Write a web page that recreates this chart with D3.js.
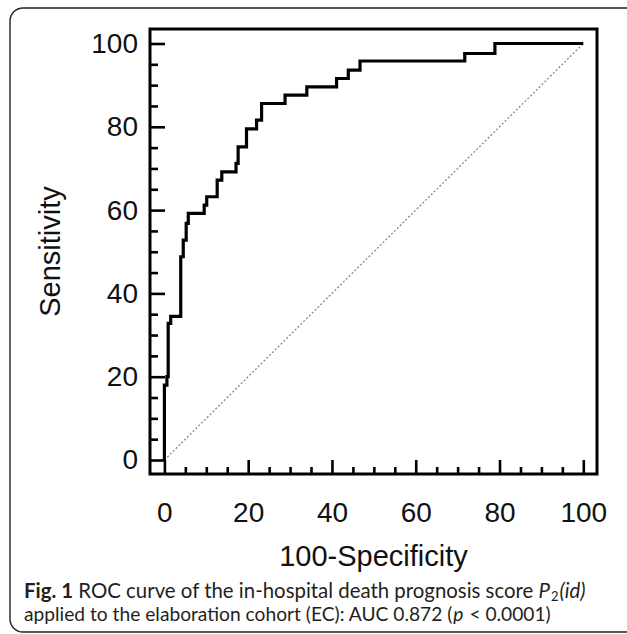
<!DOCTYPE html>
<html>
<head>
<meta charset="utf-8">
<script src="https://cdn.jsdelivr.net/npm/d3@7"></script>
<style>
  body { margin: 0; background: #fff; }
  svg { display: block; }
</style>
</head>
<body>
<svg class="roc"></svg>
<script>
// ROC curve corners, step after each point
var fpr  = [0, 0, 0.6, 0.9, 1.5, 3.9, 4.5, 5.2, 5.7, 9.5, 10.1, 12.6, 13.7, 17.1, 17.6, 19.6, 22.0, 23.2, 28.8, 34.0, 41.1, 43.9, 46.7, 71.7, 78.9, 100];
var sens = [0, 18, 20, 32.8, 34.5, 48.8, 52.8, 56.8, 59.2, 61.2, 63.2, 67.2, 69.2, 71.2, 75.2, 79.5, 81.6, 85.6, 87.6, 89.6, 91.6, 93.6, 95.8, 97.6, 100, 100];
// reference diagonal
var diagX = [0, 100];
var diagY = [0, 100];
// ticks
var majorTicks = [0, 20, 40, 60, 80, 100];
var minorTicks = [5, 10, 15, 25, 30, 35, 45, 50, 55, 65, 70, 75, 85, 90, 95];
var xTitle = "100-Specificity";
var yTitle = "Sensitivity";

var drawRoc = function(){
    var width = 627;
    var height = 634;
    var svg = d3.select(".roc")
        .attr("width", width)
        .attr("height", height);

    // outer rounded box
    svg.append("rect")
        .attr("x", 10).attr("y", 8)
        .attr("width", 640).attr("height", 624)
        .attr("rx", 13)
        .attr("fill", "none")
        .attr("stroke", "#222")
        .attr("stroke-width", 1.4);

    // frame edges (axes are drawn a bit outside the data range)
    var frame = {left: 150, right: 597, top: 29, bottom: 474};

    var x = d3.scaleLinear().domain([0, 100]).range([164.4, 583.3]);
    var y = d3.scaleLinear().domain([0, 100]).range([460, 43.5]);

    var font = "'Liberation Sans', Arial, sans-serif";

    // box
    svg.append("rect")
        .attr("x", frame.left).attr("y", frame.top)
        .attr("width", frame.right - frame.left)
        .attr("height", frame.bottom - frame.top)
        .attr("fill", "none")
        .attr("stroke", "#000")
        .attr("stroke-width", 3);

    // y axis, ticks pointing inward
    var yAxis = svg.append("g")
        .attr("transform", "translate(" + frame.left + ",0)")
        .call(d3.axisLeft(y).tickValues(majorTicks).tickSizeInner(-15).tickSizeOuter(0).tickPadding(12).tickFormat(d3.format("d")));
    var yMinor = svg.append("g")
        .attr("transform", "translate(" + frame.left + ",0)")
        .call(d3.axisLeft(y).tickValues(minorTicks).tickSizeInner(-8).tickSizeOuter(0).tickFormat(""));

    // x axis
    var xAxis = svg.append("g")
        .attr("transform", "translate(0," + frame.bottom + ")")
        .call(d3.axisBottom(x).tickValues(majorTicks).tickSizeInner(-14).tickSizeOuter(0).tickPadding(28).tickFormat(d3.format("d")));
    var xMinor = svg.append("g")
        .attr("transform", "translate(0," + frame.bottom + ")")
        .call(d3.axisBottom(x).tickValues(minorTicks).tickSizeInner(-7).tickSizeOuter(0).tickFormat(""));

    [yAxis, yMinor, xAxis, xMinor].forEach(function(g){
        g.select(".domain").remove();
        g.selectAll(".tick line").attr("stroke", "#000").attr("stroke-width", 2.6);
        g.selectAll(".tick text")
            .attr("fill", "#111")
            .style("font-family", font)
            .style("font-size", "28px");
    });

    // diagonal
    var diag = d3.line()
        .x(function(d){ return x(d[0]); })
        .y(function(d){ return y(d[1]); });
    svg.append("path")
        .attr("d", diag(d3.zip(diagX, diagY)))
        .attr("fill", "none")
        .attr("stroke", "#888")
        .attr("stroke-width", 1.3)
        .attr("stroke-dasharray", "2,2");

    // roc step curve
    var roc = d3.line()
        .curve(d3.curveStepAfter)
        .x(function(d){ return x(d[0]); })
        .y(function(d){ return y(d[1]); });
    svg.append("path")
        .attr("d", roc(d3.zip(fpr, sens)))
        .attr("fill", "none")
        .attr("stroke", "#000")
        .attr("stroke-width", 3.2)
        .attr("stroke-linejoin", "miter");

    // axis titles
    svg.append("text")
        .attr("x", (frame.left + frame.right) / 2)
        .attr("y", 566)
        .attr("text-anchor", "middle")
        .attr("fill", "#111")
        .style("font-family", font)
        .style("font-size", "29px")
        .text(xTitle);
    svg.append("text")
        .attr("transform", "translate(60," + ((frame.top + frame.bottom) / 2) + ") rotate(-90)")
        .attr("text-anchor", "middle")
        .attr("fill", "#111")
        .style("font-family", font)
        .style("font-size", "29px")
        .text(yTitle);

    // caption
    var cap = svg.append("g")
        .style("font-family", "Lato, 'Open Sans', sans-serif")
        .attr("fill", "#231f20");
    var l1 = cap.append("text").attr("x", 24).attr("y", 598)
        .style("font-size", "20.4px");
    l1.append("tspan").style("font-weight", "bold").text("Fig. 1");
    l1.append("tspan").text(" ROC curve of the in-hospital death prognosis score ");
    l1.append("tspan").style("font-style", "italic").text("P");
    l1.append("tspan").attr("dx", 1).attr("baseline-shift", "-25%").style("font-size", "13px").text("2");
    l1.append("tspan").attr("dx", 1).style("font-style", "italic").text("(id)");
    var l2 = cap.append("text").attr("x", 24).attr("y", 621)
        .style("font-size", "19.2px");
    l2.append("tspan").text("applied to the elaboration cohort (EC): AUC 0.872 (");
    l2.append("tspan").attr("dx", 1).style("font-style", "italic").text("p");
    l2.append("tspan").attr("dx", 1).text(" < 0.0001)");
}

var main = function(){
    drawRoc();
}();
</script>
</body>
</html>
